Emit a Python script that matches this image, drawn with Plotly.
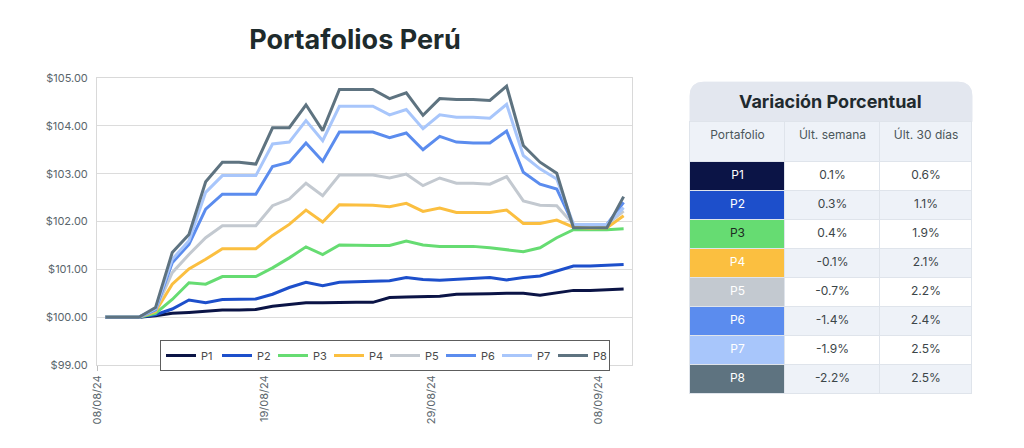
import plotly.graph_objects as go

dates = ["08/08/24","09/08/24","10/08/24","11/08/24","12/08/24","13/08/24","14/08/24","16/08/24",
         "17/08/24","18/08/24","19/08/24","20/08/24","21/08/24","22/08/24","23/08/24","24/08/24",
         "25/08/24","26/08/24","27/08/24","28/08/24","29/08/24","30/08/24","31/08/24","01/09/24",
         "02/09/24","03/09/24","04/09/24","05/09/24","06/09/24","07/09/24","08/09/24","09/09/24"]

p1 = [100.0,100.0,100.0,100.03,100.08,100.10,100.13,100.15,100.15,100.16,100.23,100.27,100.30,100.30,100.31,100.31,
      100.31,100.41,100.42,100.43,100.44,100.48,100.48,100.49,100.50,100.50,100.46,100.51,100.56,100.56,100.57,100.59]
p2 = [100.0,100.0,100.0,100.05,100.17,100.36,100.30,100.37,100.38,100.38,100.48,100.62,100.73,100.66,100.73,100.74,
      100.74,100.76,100.83,100.79,100.77,100.79,100.80,100.83,100.78,100.83,100.86,100.97,101.07,101.07,101.08,101.10]
p3 = [100.0,100.0,100.0,100.08,100.37,100.72,100.69,100.85,100.85,100.85,101.03,101.24,101.47,101.31,101.51,101.50,
      101.50,101.50,101.59,101.51,101.48,101.48,101.48,101.45,101.41,101.37,101.45,101.66,101.83,101.83,101.83,101.85]
p4 = [100.0,100.0,100.0,100.12,100.69,101.01,101.21,101.43,101.43,101.43,101.71,101.94,102.24,101.99,102.35,102.34,
      102.34,102.31,102.38,102.21,102.28,102.19,102.19,102.19,102.24,101.96,101.96,102.03,101.88,101.86,101.87,102.12]
p5 = [100.0,100.0,100.0,100.15,100.93,101.31,101.66,101.91,101.91,101.91,102.33,102.47,102.80,102.54,102.97,102.97,
      102.97,102.91,102.99,102.75,102.91,102.80,102.80,102.78,102.94,102.43,102.34,102.33,101.94,101.94,101.94,102.22]
p6 = [100.0,100.0,100.0,100.15,101.14,101.52,102.26,102.57,102.57,102.57,103.15,103.24,103.64,103.26,103.87,103.87,
      103.87,103.75,103.85,103.50,103.78,103.66,103.64,103.64,103.89,103.03,102.78,102.68,101.94,101.94,101.94,102.40]
p7 = [100.0,100.0,100.0,100.18,101.21,101.60,102.61,102.96,102.96,102.96,103.62,103.66,104.11,103.69,104.41,104.41,
      104.41,104.23,104.34,103.94,104.23,104.18,104.18,104.16,104.45,103.38,103.10,102.89,101.94,101.94,101.94,102.29]
p8 = [100.0,100.0,100.0,100.20,101.35,101.73,102.83,103.24,103.24,103.20,103.96,103.96,104.44,103.90,104.76,104.76,
      104.76,104.57,104.69,104.22,104.57,104.55,104.55,104.53,104.83,103.59,103.24,103.01,101.87,101.87,101.87,102.52]

series_names = ["P1","P2","P3","P4","P5","P6","P7","P8"]
series_values = [p1, p2, p3, p4, p5, p6, p7, p8]
colors = ["#0b1446","#1d4fcb","#66dc72","#fbbf40","#c3c9d0","#5b8cee","#a8c6fb","#5e7380"]

tick_label_idx = [0, 10, 20, 30]
y_ticks = [99, 100, 101, 102, 103, 104, 105]
y_tick_text = ["$99.00","$100.00","$101.00","$102.00","$103.00","$104.00","$105.00"]

table_title = "Variación Porcentual"
table_header = ["Portafolio", "Últ. semana", "Últ. 30 días"]
ult_semana = ["0.1%","0.3%","0.4%","-0.1%","-0.7%","-1.4%","-1.9%","-2.2%"]
ult_30 = ["0.6%","1.1%","1.9%","2.1%","2.2%","2.4%","2.5%","2.5%"]

FONT = "Inter"
x_idx = list(range(len(dates)))

fig = go.Figure()
for name, vals, col in zip(series_names, series_values, colors):
    fig.add_trace(go.Scatter(x=x_idx, y=vals, name=name, mode="lines",
                             line=dict(color=col, width=3),
                             customdata=dates,
                             hovertemplate="%{customdata}: $%{y:.2f}<extra>" + name + "</extra>"))

row_fill = ["#ffffff" if i % 2 == 0 else "#eef2f8" for i in range(len(series_names))]
name_font = ["#ffffff"] * len(series_names)
name_font[2] = "#1d2b22"
fig.add_trace(go.Table(
    domain=dict(x=[0.6777, 1.0], y=[0.0, 0.862]),
    columnwidth=[95, 95, 92],
    header=dict(values=table_header, fill_color="#eef2f8", height=40,
                line=dict(color="#dfe4eb", width=1),
                font=dict(family=FONT, size=12, color="#4b565a"), align="center"),
    cells=dict(values=[series_names, ult_semana, ult_30],
               fill_color=[colors, row_fill, row_fill], height=29,
               line=dict(color="#dfe4eb", width=1),
               font=dict(family=FONT, size=12, color=[name_font, "#3b4548", "#3b4548"]),
               align="center"),
))

# rounded header box for the table title
W, H = 875.0, 317.0
x0, x1 = 0.6777, 1.0
y0, y1 = 0.862, 0.987
rx, ry = 14 / W, 14 / H
path = (f"M {x0},{y0} L {x0},{y1-ry} Q {x0},{y1} {x0+rx},{y1} L {x1-rx},{y1} "
        f"Q {x1},{y1} {x1},{y1-ry} L {x1},{y0} Z")
fig.add_shape(type="path", path=path, xref="paper", yref="paper",
              fillcolor="#e3e7ef", line=dict(color="#e3e7ef", width=1), layer="below")
fig.add_annotation(text="<b>" + table_title + "</b>", xref="paper", yref="paper",
                   x=(x0 + x1) / 2, y=(y0 + y1) / 2, xanchor="center", yanchor="middle",
                   showarrow=False,
                   font=dict(family=FONT, size=18, color="#1f2a2e"))

fig.update_layout(
    width=1016, height=440,
    margin=dict(l=89, r=52, t=70, b=53),
    paper_bgcolor="white", plot_bgcolor="white",
    title=dict(text="<b>Portafolios Perú</b>", x=347 / 1016, xanchor="center",
               y=1 - 32 / 440, yanchor="middle", yref="container",
               font=dict(family=FONT, size=27, color="#1e2b2c")),
    font=dict(family=FONT, size=11, color="#5a666c"),
    showlegend=True,
    legend=dict(orientation="h", x=0.072, y=0.1735, xanchor="left", yanchor="top",
                bgcolor="white", bordercolor="#5d5d5d", borderwidth=1,
                font=dict(family=FONT, size=11, color="#4a4a4a"),
                entrywidth=11, entrywidthmode="pixels", itemwidth=30,
                tracegroupgap=0),
    xaxis=dict(domain=[0, 0.6114], range=[-0.5, len(dates) - 0.5],
               tickmode="array",
               tickvals=[i - 0.5 for i in tick_label_idx],
               ticktext=[dates[i] for i in tick_label_idx],
               tickangle=-90, ticks="outside", ticklen=5, tickcolor="#bfbfbf",
               showgrid=False, showline=True, linecolor="#d9d9d9", linewidth=1, mirror=True,
               zeroline=False, tickfont=dict(size=11, color="#5a666c")),
    yaxis=dict(domain=[0.0946, 1.0], range=[99, 105], tickmode="array",
               tickvals=y_ticks, ticktext=y_tick_text,
               showgrid=True, gridcolor="#dcdcdc", gridwidth=1,
               showline=True, linecolor="#d9d9d9", linewidth=1, mirror=True,
               zeroline=False, ticks="", ticklabelstandoff=6,
               tickfont=dict(size=11, color="#5a666c")),
)

fig.write_html("out.html")
